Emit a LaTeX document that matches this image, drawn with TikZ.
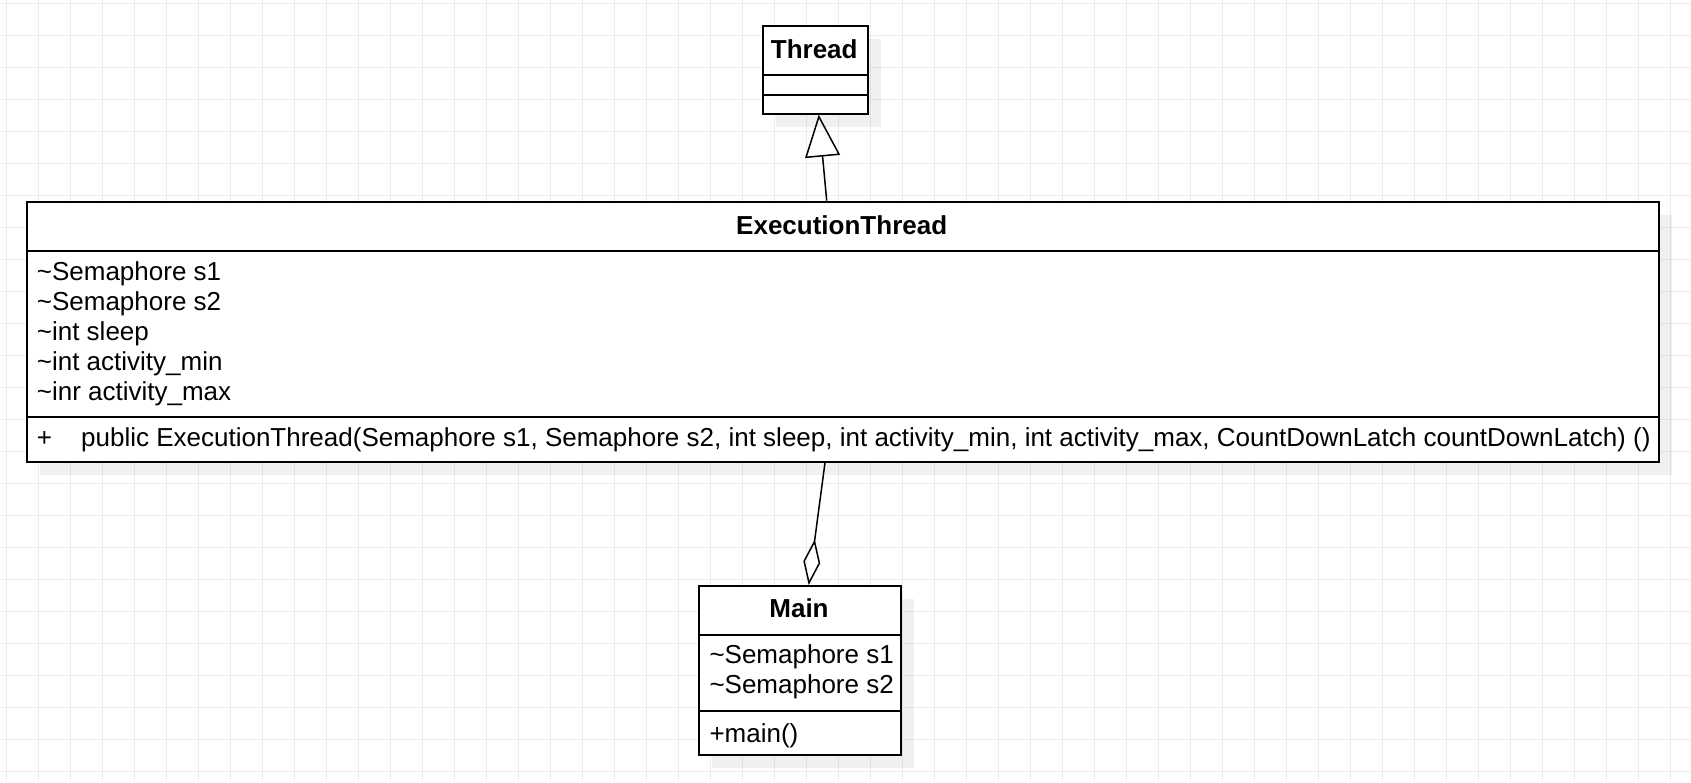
\documentclass[tikz,border=0pt]{standalone}
\usepackage{fontspec}
\setmainfont{Liberation Sans}
\usetikzlibrary{arrows.meta,calc}
\begin{document}
\begin{tikzpicture}[x=1pt,y=-1pt,
  box/.style={draw=black,line width=2pt,fill=white,inner sep=0pt,anchor=north west},
  shadowbox/.style={fill=black,fill opacity=0.06,draw=none},
  divider/.style={draw=black,line width=2pt},
  gridline/.style={draw=black!7,line width=1pt},
  title/.style={font=\fontsize{26}{30}\selectfont\bfseries,anchor=base,inner sep=0pt},
  member/.style={font=\fontsize{26}{30}\selectfont,anchor=base west,inner sep=0pt},
  conn/.style={draw=black,line width=1.5pt},
]
\useasboundingbox (0,0) rectangle (1691,782);
\fill[white] (0,0) rectangle (1691,782);
\foreach \k in {0,...,52} \draw[gridline] (6.7+32*\k,0) -- (6.7+32*\k,782);
\foreach \k in {0,...,24} \draw[gridline] (0,3.3+32*\k) -- (1691,3.3+32*\k);

% shadows
\fill[shadowbox] (775.7,39) rectangle (880.7,126.7);
\fill[shadowbox] (39.7,214.7) rectangle (1671.7,474.7);
\fill[shadowbox] (711.7,599) rectangle (914.3,768.3);

% Thread
\node[box,minimum width=105pt,minimum height=87.7pt] (thread) at (761.7,25) {};
\draw[divider] (761.7,75) -- (866.7,75);
\draw[divider] (761.7,95) -- (866.7,95);
\node[title] (threadT) at (814.2,58.7) {Thread};

% ExecutionThread
\node[box,minimum width=1632pt,minimum height=260pt] (exec) at (25.7,200.7) {};
\draw[divider] (25.7,251) -- (1657.7,251);
\draw[divider] (25.7,417) -- (1657.7,417);
\node[title] (execT) at (841.7,234) {ExecutionThread};
\node[member] (ea1) at (36.7,280.7) {\textasciitilde Semaphore s1};
\node[member] (ea2) at (36.7,310.7) {\textasciitilde Semaphore s2};
\node[member] (ea3) at (36.7,340.7) {\textasciitilde int sleep};
\node[member] (ea4) at (36.7,370.7) {\textasciitilde int activity\_min};
\node[member] (ea5) at (36.7,400.7) {\textasciitilde inr activity\_max};
\node[member] (em0) at (36.7,446.7) {+};
\node[member] (em1) at (81,446.7) {public ExecutionThread(Semaphore s1, Semaphore s2, int sleep, int activity\_min, int activity\_max, CountDownLatch countDownLatch) ()};

% Main
\node[box,minimum width=202.6pt,minimum height=169.3pt] (main) at (697.7,585) {};
\draw[divider] (697.7,635) -- (900.3,635);
\draw[divider] (697.7,711) -- (900.3,711);
\node[title] (mainT) at (799,617.7) {Main};
\node[member] (ma1) at (709.3,663.3) {\textasciitilde Semaphore s1};
\node[member] (ma2) at (709.3,693.3) {\textasciitilde Semaphore s2};
\node[member] (mm1) at (709.3,742.3) {+main()};

% connectors
\draw[conn,-{Triangle[open,length=42pt,width=35pt,line width=1.5pt]}]
  ([xshift=-16pt]exec.north) -- ([xshift=3.5pt]thread.south);
\draw[conn,-{Diamond[open,length=46pt,width=17pt,line width=1.5pt]}]
  ([xshift=-17.7pt]exec.south) -- ([xshift=8.7pt]main.north);
\end{tikzpicture}
\end{document}
